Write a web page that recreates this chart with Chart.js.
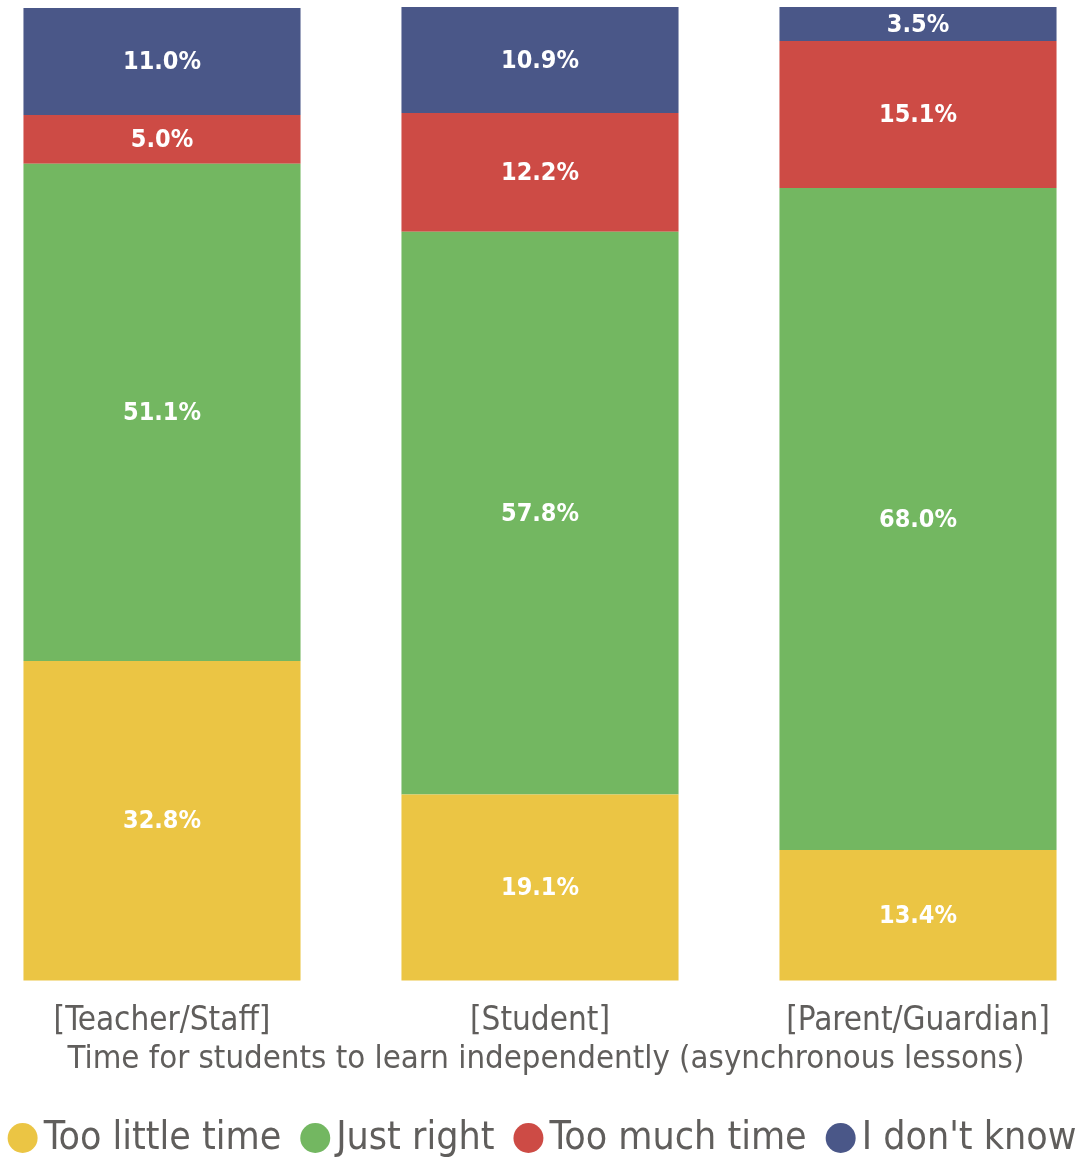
<!DOCTYPE html>
<html>
<head>
<meta charset="utf-8">
<script src="https://cdn.jsdelivr.net/npm/chart.js@4.4.1/dist/chart.umd.min.js"></script>
<style>
    html, body { margin: 0; padding: 0; background: #ffffff; }
    #wrap { width: 1084px; height: 1158px; }
</style>
</head>
<body>
<div id="wrap"><canvas id="chart" width="1084" height="1158"></canvas></div>
<script>
// Data
const categories = ['[Teacher/Staff]', '[Student]', '[Parent/Guardian]'];
const seriesNames = ['Too little time', 'Just right', 'Too much time', "I don't know"];
const tooLittle = [32.8, 19.1, 13.4];
const justRight = [51.1, 57.8, 68.0];
const tooMuch = [5.0, 12.2, 15.1];
const dontKnow = [11.0, 10.9, 3.5];
const seriesColors = ['#ebc544', '#73b761', '#cd4b45', '#4a5788'];
const axisTitle = 'Time for students to learn independently (asynchronous lessons)';

const FONT = "'DejaVu Sans Condensed', 'Liberation Sans Narrow', sans-serif";
const TEXT_GREY = '#605e5c';

// Draw the value labels inside each segment
const segmentLabels = {
    id: 'segmentLabels',
    afterDatasetsDraw(chart) {
        const ctx = chart.ctx;
        ctx.save();
        ctx.fillStyle = '#ffffff';
        ctx.font = 'bold 25px ' + FONT;
        ctx.textAlign = 'center';
        ctx.textBaseline = 'middle';
        chart.data.datasets.forEach((ds, i) => {
            const meta = chart.getDatasetMeta(i);
            meta.data.forEach((bar, j) => {
                const v = ds.data[j];
                const y = (bar.y + bar.base) / 2;
                ctx.fillText(v.toFixed(1) + '%', bar.x, y + 1);
            });
        });
        ctx.restore();
    }
};

// Axis title + legend drawn along the bottom
const bottomText = {
    id: 'bottomText',
    afterDraw(chart) {
        const ctx = chart.ctx;
        ctx.save();

        // axis title
        ctx.font = '30px ' + FONT;
        const tw = ctx.measureText(axisTitle).width;
        const size = 30 * 957 / tw;
        ctx.font = size.toFixed(1) + 'px ' + FONT;
        ctx.fillStyle = TEXT_GREY;
        ctx.textAlign = 'center';
        ctx.textBaseline = 'middle';
        ctx.fillText(axisTitle, 546, 1060);

        // legend
        const r = 15;
        const gapText = 6;
        const gapItem = 19;
        const y = 1138;
        ctx.font = '39px ' + FONT;
        ctx.textAlign = 'left';
        const widths = chart.data.datasets.map(ds => ctx.measureText(ds.label).width);
        let total = 0;
        widths.forEach((w, i) => {
            total += 2 * r + gapText + w + (i < widths.length - 1 ? gapItem : 0);
        });
        let x = chart.width / 2 - total / 2;
        chart.data.datasets.forEach((ds, i) => {
            ctx.fillStyle = ds.backgroundColor;
            ctx.beginPath();
            ctx.arc(x + r, y, r, 0, Math.PI * 2);
            ctx.fill();
            x += 2 * r + gapText;
            ctx.fillStyle = TEXT_GREY;
            ctx.fillText(ds.label, x, y + 1);
            x += widths[i] + gapItem;
        });
        ctx.restore();
    }
};

const datasets = [tooLittle, justRight, tooMuch, dontKnow].map((vals, i) => ({
    label: seriesNames[i],
    data: vals,
    backgroundColor: seriesColors[i],
    borderWidth: 0,
    categoryPercentage: 1,
    barPercentage: 0.733,
    clip: false
}));

new Chart(document.getElementById('chart'), {
    type: 'bar',
    data: { labels: categories, datasets: datasets },
    options: {
        responsive: false,
        animation: false,
        layout: { padding: { left: 162, right: 166, top: 7, bottom: 96 } },
        plugins: {
            legend: { display: false },
            tooltip: { enabled: false }
        },
        scales: {
            x: {
                stacked: true,
                offset: false,
                grid: { display: false, drawTicks: false },
                border: { display: false },
                ticks: {
                    color: TEXT_GREY,
                    padding: 21,
                    maxRotation: 0,
                    autoSkip: false,
                    font: { family: FONT, size: 33 }
                }
            },
            y: {
                stacked: true,
                display: false,
                min: 0,
                max: 100
            }
        }
    },
    plugins: [segmentLabels, bottomText]
});
</script>
</body>
</html>
